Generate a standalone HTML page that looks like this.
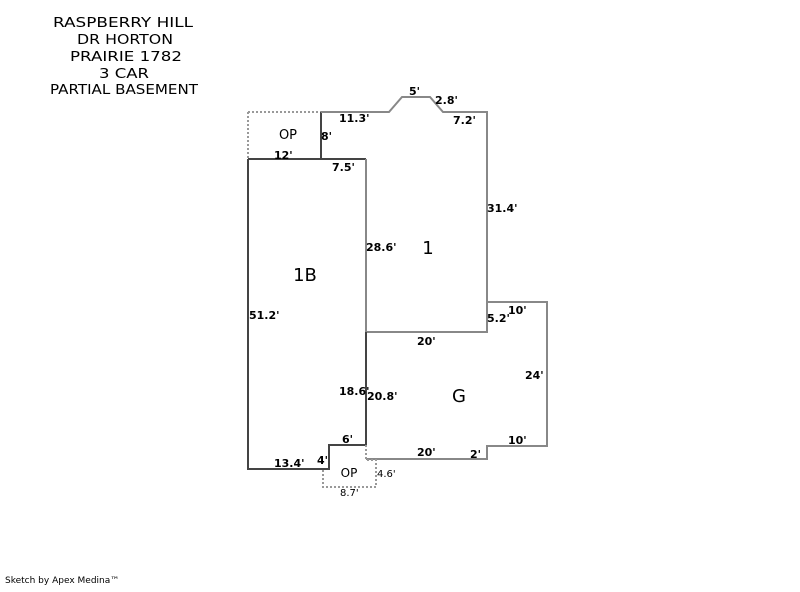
<!DOCTYPE html>
<html><head><style>
body{margin:0;background:#fff;width:800px;height:587px;overflow:hidden;font-family:"Liberation Sans",sans-serif}
</style></head><body>
<svg width="800" height="587" xmlns="http://www.w3.org/2000/svg" font-family="DejaVu Sans, Liberation Sans, sans-serif">
<g font-size="13" fill="#000" text-anchor="middle" font-family="DejaVu Sans, sans-serif" textLength="0">
<text x="123" y="27" textLength="140" lengthAdjust="spacingAndGlyphs">RASPBERRY HILL</text>
<text x="125" y="44" textLength="96" lengthAdjust="spacingAndGlyphs">DR HORTON</text>
<text x="126" y="61" textLength="112" lengthAdjust="spacingAndGlyphs">PRAIRIE 1782</text>
<text x="124" y="78" textLength="50" lengthAdjust="spacingAndGlyphs">3 CAR</text>
<text x="124" y="94" textLength="148" lengthAdjust="spacingAndGlyphs">PARTIAL BASEMENT</text>
</g>
<g fill="none" stroke-width="2">
<path d="M248 112H321M248 112V159" stroke="#999" stroke-dasharray="2,2"/>
<path d="M321 112V159M248 159H366M248 159V469H329V445H366V332" stroke="#444"/>
<path d="M321 112H389L402 97H430L443 112H487V332H366V159" stroke="#888"/>
<path d="M366 332H487V302H547V446H487V459H366" stroke="#888"/>
<path d="M366 332V445" stroke="#444"/>
<path d="M366 445V460H376V487H323V469" stroke="#999" stroke-dasharray="2,2"/>
</g>
<g font-size="11" font-weight="bold" fill="#000">
<text x="409" y="95">5'</text>
<text x="435" y="104">2.8'</text>
<text x="339" y="122">11.3'</text>
<text x="453" y="124">7.2'</text>
<text x="321" y="140">8'</text>
<text x="274" y="159">12'</text>
<text x="332" y="171">7.5'</text>
<text x="487" y="212">31.4'</text>
<text x="366" y="251">28.6'</text>
<text x="249" y="319">51.2'</text>
<text x="508" y="314">10'</text>
<text x="487" y="322">5.2'</text>
<text x="417" y="345">20'</text>
<text x="525" y="379">24'</text>
<text x="339" y="395">18.6'</text>
<text x="367" y="400">20.8'</text>
<text x="342" y="443">6'</text>
<text x="508" y="444">10'</text>
<text x="417" y="456">20'</text>
<text x="470" y="458">2'</text>
<text x="274" y="467">13.4'</text>
<text x="317" y="464">4'</text>
</g>
<g font-size="10" fill="#000">
<text x="377" y="477">4.6'</text>
<text x="340" y="496">8.7'</text>
</g>
<g font-size="18" fill="#000" text-anchor="middle">
<text x="428" y="254">1</text>
<text x="305" y="281">1B</text>
<text x="459" y="402">G</text>
</g>
<g font-size="13" fill="#000" text-anchor="middle">
<text x="288" y="139">OP</text>
<text x="349" y="477" font-size="12">OP</text>
</g>
<text x="5" y="583" font-size="9" fill="#000">Sketch by Apex Medina™</text>
</svg>
</body></html>
